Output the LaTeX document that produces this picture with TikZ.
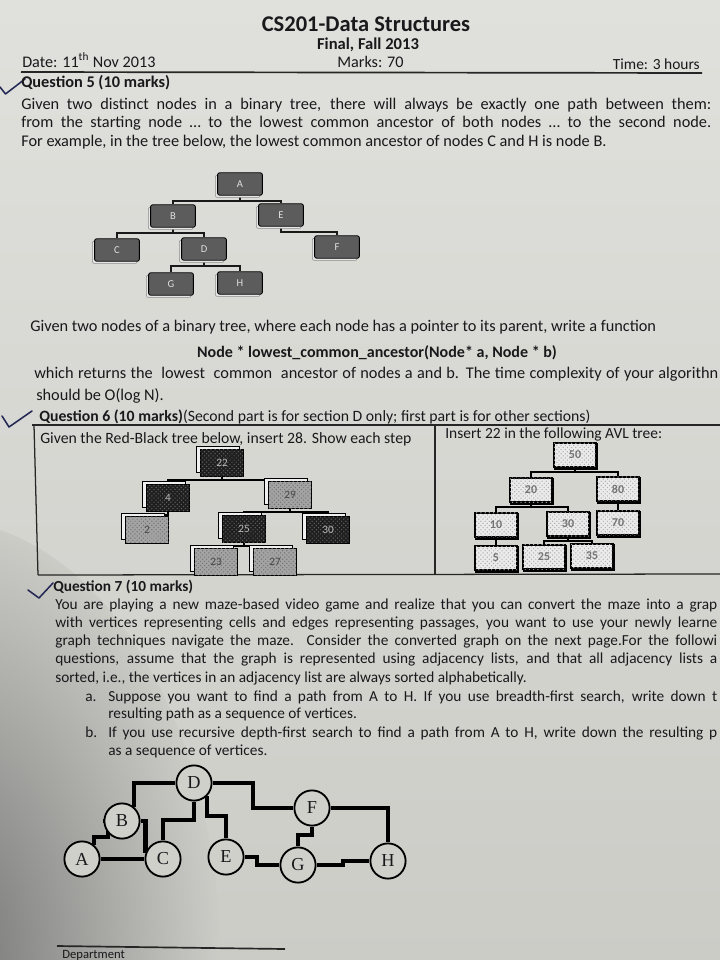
\documentclass[tikz,border=0pt]{standalone}
\usepackage{fontspec}
\setmainfont{Carlito}
\newfontfamily\mazefont{Liberation Serif}
\usetikzlibrary{positioning,shadows,patterns,backgrounds}
\definecolor{papertop}{RGB}{224,224,220}
\definecolor{paperbot}{RGB}{204,204,199}
\definecolor{papermid}{RGB}{208,208,203}
\definecolor{ink}{RGB}{25,25,28}
\definecolor{pen}{RGB}{35,40,85}
\pgfdeclarelayer{paper}
\pgfsetlayers{paper,background,main}
\newcommand{\spread}[2]{\makebox[\dimexpr0.025cm*#1\relax][s]{#2}}

\begin{document}
\begin{tikzpicture}[x=0.025cm,y=-0.025cm,
    every node/.append style={text=ink},
    txt/.style={anchor=base west,inner sep=0pt,font=\fontsize{11.6}{14}\selectfont},
    penmark/.style={draw=pen,line width=1.1pt,line cap=round,line join=round},
    frame/.style={draw=black!85,line width=0.9pt}]

    \begin{pgfonlayer}{paper}
        \clip (0,0) rectangle (720,960);
        \shade[top color=papertop,bottom color=paperbot] (0,0) rectangle (720,960);
        \shade[inner color=black!55,outer color=paperbot] (-60,960) ellipse [x radius=280,y radius=440];
    \end{pgfonlayer}
    \useasboundingbox (0,0) rectangle (720,960);
    \clip (0,0) rectangle (720,960);

    % header
    \node[anchor=base,inner sep=0pt,font=\bfseries\fontsize{16}{18}\selectfont] (title) at (366,31) {CS201-Data Structures};
    \node[anchor=base,inner sep=0pt,font=\bfseries\fontsize{11.8}{14}\selectfont] (exam) at (368,49) {Final, Fall 2013};
    \node[txt,font=\fontsize{11.5}{14}\selectfont] (date) at (22,67) {Date: 11\textsuperscript{th} Nov 2013};
    \node[txt,font=\fontsize{11.5}{14}\selectfont] (marks) at (337,67) {Marks: 70};
    \node[txt,anchor=base east,font=\fontsize{11}{14}\selectfont] (time) at (700,69) {Time: 3 hours};
    \draw[draw=black!85,line width=1.2pt] (21,72) -- (702,73);

    % question 5
    \draw[penmark] (0,87) -- (5.5,94) -- (25,79);
    \node[txt,font=\bfseries\fontsize{11.6}{14}\selectfont] (q5) at (21,87) {Question 5 (10 marks)};
    \node[txt] (q5a) at (21,109) {\spread{690}{Given two distinct nodes in a binary tree, there will always be exactly one path between them:}};
    \node[txt] (q5b) at (21,127) {\spread{690}{from the starting node … to the lowest common ancestor of both nodes … to the second node.}};
    \node[txt] (q5c) at (21,146) {For example, in the tree below, the lowest common ancestor of nodes C and H is node B.};

    \begin{scope}[every node/.append style={draw=black,line width=0.6pt,fill=black!64,rounded corners=1.5pt,
            minimum width=1.12cm,minimum height=0.56cm,inner sep=1pt,font=\fontsize{7.5}{8}\selectfont,text=black!12,
            copy shadow={shadow xshift=-1.6pt,shadow yshift=-1.6pt,fill=black!10,draw=black!45,line width=0.4pt}}]
        \node (a) at (240,184) {A};
        \node (b) at (173,216) {B};
        \node (e) at (281,215) {E};
        \node (c) at (117,250) {C};
        \node (d) at (204,249) {D};
        \node (f) at (337,247) {F};
        \node (g) at (171,284) {G};
        \node (h) at (240,283) {H};
    \end{scope}
    \begin{scope}[on background layer]
        \foreach \p/\c in {a/b,a/e,b/c,b/d,e/f,d/g,d/h}
            \draw[draw=black!90,line width=1.4pt] (\p.south) -- ++(0,5) -| (\c.north);
    \end{scope}

    \begin{scope}[every node/.append style={txt,font=\fontsize{11.6}{14}\selectfont}]
        \node (q5d) at (30,331) {Given two nodes of a binary tree, where each node has a pointer to its parent, write a function};
        \node[anchor=base,font=\bfseries\fontsize{11.4}{14}\selectfont] (proto) at (377,357) {Node * lowest\_common\_ancestor(Node* a, Node * b)};
        \node (q5e) at (34,378) {\spread{684}{which returns the \ lowest \ common \ ancestor of nodes a and b. The time complexity of your algorithn}};
        \node (q5f) at (36,400) {should be O(log N).};
    \end{scope}

    % question 6
    \draw[penmark] (2,416) -- (9,427) -- (32,411);
    \node[txt,font=\fontsize{11.2}{14}\selectfont] (q6) at (39,421) {\textbf{Question 6 (10 marks)}(Second part is for section D only; first part is for other sections)};
    \draw[frame] (32,425) -- (720,425);
    \draw[frame] (34,425) -- (38,575);
    \draw[frame] (38,575) -- (720,574);
    \draw[frame] (435,425) -- (435,574);
    \node[txt,font=\fontsize{11.2}{14}\selectfont] (rbtext) at (40,443) {Given the Red-Black tree below, insert 28. Show each step};
    \node[txt,font=\fontsize{11}{14}\selectfont] (avltext) at (445,438) {Insert 22 in the following AVL tree:};

    % red-black tree
    \begin{scope}[every node/.append style={draw=black,line width=0.5pt,minimum width=1.08cm,minimum height=0.66cm,
            inner sep=1pt,font=\fontsize{8}{9}\selectfont,
            copy shadow={shadow xshift=-2.8pt,shadow yshift=2.8pt,fill=white!94!black,draw=black,line width=0.5pt}},
        rbblack/.style={fill=black!88,text=white!72!black,postaction={pattern=crosshatch dots,pattern color=black!62}},
        rbred/.style={fill=black!36,text=black!72,postaction={pattern=crosshatch dots,pattern color=black!55}}]
        \node[rbblack] (n22) at (222,463) {22};
        \node[rbblack] (n4) at (168,498) {4};
        \node[rbred] (n29) at (290,495) {29};
        \node[rbred] (n2) at (147,530) {2};
        \node[rbblack] (n25) at (244,529) {25};
        \node[rbblack] (n30) at (328,530) {30};
        \node[rbred] (n23) at (216,562) {23};
        \node[rbred] (n27) at (275,562) {27};
    \end{scope}
    \begin{scope}[on background layer]
        \foreach \p/\c in {n22/n4,n22/n29,n4/n2,n29/n25,n29/n30,n25/n23,n25/n27}
            \draw[draw=black,line width=1.3pt] (\p.south) -- ++(0,3.5) -| (\c.north);
    \end{scope}

    % avl tree
    \begin{scope}[every node/.append style={draw=black,line width=1.5pt,fill=white!92!black,
            postaction={pattern=crosshatch dots,pattern color=black!32},
            minimum width=1.05cm,minimum height=0.62cm,inner sep=1pt,font=\bfseries\fontsize{8.5}{9}\selectfont,text=black!55,
            copy shadow={shadow xshift=0.9pt,shadow yshift=-0.9pt,fill=black,draw=black}}]
        \node (v50) at (575,455) {50};
        \node (v20) at (531,490) {20};
        \node (v80) at (618,489) {80};
        \node (v10) at (496,525) {10};
        \node (v30) at (568,524) {30};
        \node (v70) at (618,523) {70};
        \node (v5) at (496,558) {5};
        \node (v25) at (544,557) {25};
        \node (v35) at (592,556) {35};
    \end{scope}
    \begin{scope}[on background layer]
        \foreach \p/\c in {v50/v20,v50/v80,v20/v10,v20/v30,v30/v25,v30/v35}
            \draw[draw=black,line width=1.8pt] (\p.south) -- ++(0,3.5) -| (\c.north);
        \draw[draw=black,line width=1.8pt] (v80) -- (v70);
        \draw[draw=black,line width=1.8pt] (v10) -- (v5);
    \end{scope}

    % question 7
    \draw[penmark] (28,590) -- (39,598) -- (53,583);
    \begin{scope}[every node/.append style={txt,font=\fontsize{10.9}{13}\selectfont}]
        \node[font=\bfseries\fontsize{10.9}{13}\selectfont] (q7) at (53,591) {Question 7 (10 marks)};
        \node (q7a) at (55,609) {\spread{662}{You are playing a new maze-based video game and realize that you can convert the maze into a grap}};
        \node (q7b) at (55,627) {\spread{662}{with vertices representing cells and edges representing passages, you want to use your newly learne}};
        \node (q7c) at (55,645) {\spread{662}{graph techniques navigate the maze. Consider the converted graph on the next page.For the followi}};
        \node (q7d) at (55,663) {\spread{662}{questions, assume that the graph is represented using adjacency lists, and that all adjacency lists a}};
        \node (q7e) at (55,682) {sorted, i.e., the vertices in an adjacency list are always sorted alphabetically.};
        \node (ia) at (85,701) {a.};
        \node (pa) at (108,701) {\spread{609}{Suppose you want to find a path from A to H. If you use breadth-first search, write down t}};
        \node (pa2) at (108,718) {resulting path as a sequence of vertices.};
        \node (ib) at (85,737) {b.};
        \node (pb) at (108,737) {\spread{609}{If you use recursive depth-first search to find a path from A to H, write down the resulting p}};
        \node (pb2) at (108,755) {as a sequence of vertices.};
    \end{scope}

    % maze graph
    \begin{scope}[every node/.append style={circle,draw=black,line width=1.3pt,fill=papermid,minimum size=0.88cm,
            inner sep=0pt,font=\mazefont\fontsize{13}{14}\selectfont}]
        \node (ma) at (82,859) {A};
        \node (mb) at (122,821) {B};
        \node (mc) at (163,859) {C};
        \node (md) at (194,783) {D};
        \node (me) at (226,857) {E};
        \node (mf) at (312,808) {F};
        \node (mg) at (298,865) {G};
        \node (mh) at (388,861) {H};
    \end{scope}
    \begin{scope}[on background layer,every path/.append style={draw=black,line width=3.3pt}]
        \draw (ma.50) |- (108,837) |- (mb);
        \draw (ma) -- (mc);
        \draw (mb) -| (mc.160);
        \draw (mb.50) |- (md);
        \draw (md) -- ++(0,37) -| (mc);
        \draw (md.315) -- ++(0,20) -| (me);
        \draw (md) -| ++(59,25) -- (mf);
        \draw (mf) -- ++(0,27) -| (mg);
        \draw (mf) -| (mh);
        \draw (me) -| ++(31,8) -- (mg);
        \draw (mg) -| ++(45,-4) -- (mh);
    \end{scope}

    % footer
    \draw[draw=black!85,line width=1.2pt] (57,946) -- (285,949);
    \node[txt,font=\fontsize{9}{11}\selectfont] (dept) at (62,958) {Department};
\end{tikzpicture}
\end{document}
